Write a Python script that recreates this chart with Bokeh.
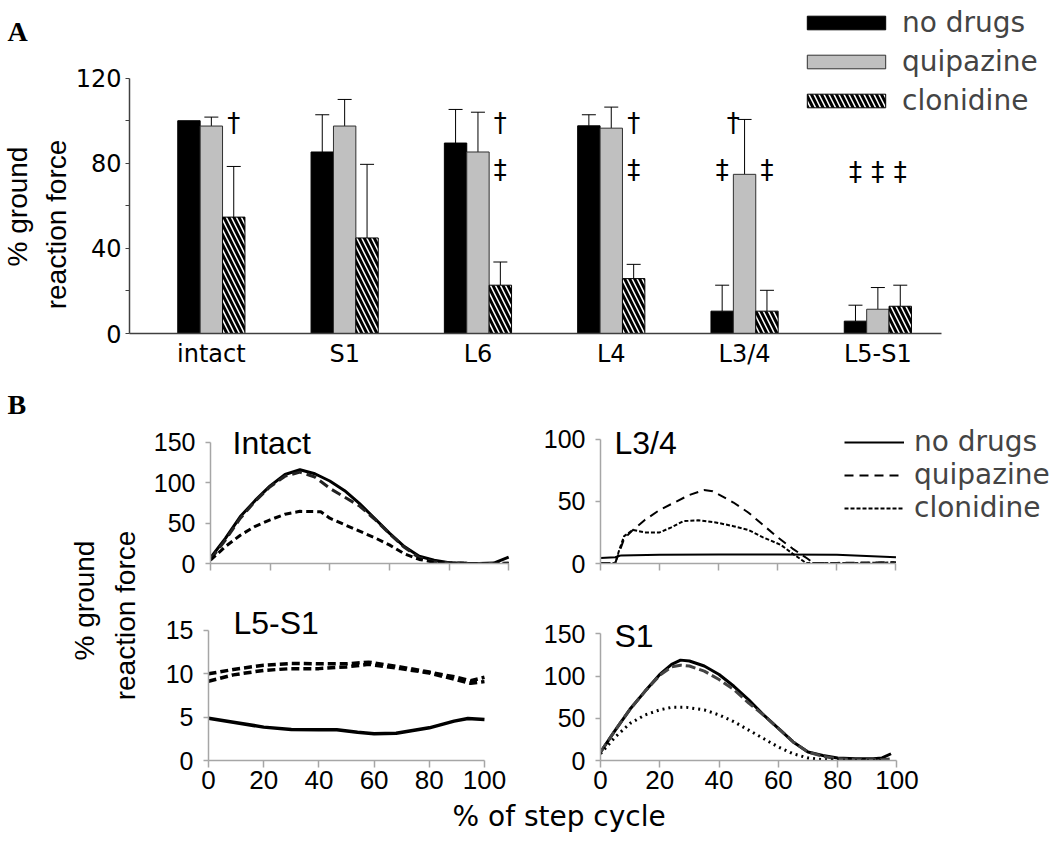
import numpy as np
from bokeh.plotting import figure
from bokeh.models import (Range1d, FixedTicker, Label, Legend, LegendItem, Whisker,
                          TeeHead, ColumnDataSource)
from bokeh.layouts import column, row
from bokeh.embed import file_html
from bokeh.resources import INLINE
from bokeh.core.properties import value

# ---------------- Panel A data ----------------
categories = ["intact", "S1", "L6", "L4", "L3/4", "L5-S1"]
no_drugs_mean = [100, 85.3, 89.5, 97.6, 10.5, 5.8]
no_drugs_sd = [0, 17.5, 15.8, 5.2, 12.2, 7.5]
quipazine_mean = [97.5, 97.5, 85.3, 96.5, 74.8, 11.4]
quipazine_sd = [4.2, 12.5, 18.7, 9.9, 25.8, 10.2]
clonidine_mean = [54.7, 44.9, 22.7, 25.8, 10.5, 12.8]
clonidine_sd = [23.8, 34.6, 10.9, 6.7, 9.8, 9.9]

sig_group = [0, 2, 2, 3, 3, 4, 4, 4, 5, 5, 5]
sig_bar = [1, 1, 1, 1, 1, -0.5, -1, 1, -1, 0, 1]
sig_y = [99, 99, 77, 99, 77, 99, 77, 77, 76, 76, 76]
sig_mark = ["\u2020", "\u2020", "\u2021", "\u2020", "\u2021", "\u2020", "\u2021", "\u2021",
            "\u2021", "\u2021", "\u2021"]

a_yticks = [0, 40, 80, 120]
a_minor = [20, 60, 100]

# ---------------- Panel B data ----------------
intact_x = [0, 5, 10, 15, 20, 25, 30, 35, 40, 45, 50, 55, 60, 65, 70, 75, 80, 85, 90, 95, 100]
intact_no_drugs = [7, 31, 58, 78, 96, 110, 116, 111, 102, 90, 74, 56, 37.5, 21, 9, 4, 1, 0.4, 0, 0.5, 8]
intact_quipazine = [5, 29, 56, 77, 95, 108, 113, 107, 93, 82, 71, 55, 37, 20, 7, 2, 1, 0.3, 0, 0, 0.5]
intact_clon_x = [0, 5, 10, 15, 20, 25, 30, 37, 40, 45, 50, 55, 60, 65, 70, 75, 80, 90, 100]
intact_clonidine = [4, 21, 35, 46, 54, 61, 64.5, 64, 56, 48, 40, 32, 23, 12, 5, 1.5, 0.5, 0, 0]

l34_nd_x = [0, 5, 7, 20, 40, 60, 80, 90, 100]
l34_no_drugs = [4.5, 5, 6.5, 7, 7.3, 7.3, 7, 6, 5]
l34_q_x = [0, 5, 6.5, 8, 11, 15, 20, 25, 30, 35, 38, 45, 50, 55, 60, 65, 70, 72, 80, 90, 100]
l34_quipazine = [0.5, 0.5, 10, 20, 27, 35, 43, 49, 55, 59, 58, 49, 41, 31, 21, 12, 4, 0.5, 0.5, 0.8, 1]
l34_c_x = [0, 5, 6.5, 8, 11, 15, 20, 24, 28, 33, 39, 45, 50, 55, 61, 65, 68, 69.5, 80, 90, 100]
l34_clonidine = [0.5, 0.5, 12, 22, 27, 25, 25, 29, 34, 34.7, 33, 30, 27, 21, 15, 8, 3, 0.5, 0.5, 0.5, 0.8]

l5_nd_x = [0, 9, 20, 30, 40, 46.5, 54, 60, 68, 80, 89, 94, 100]
l5_no_drugs = [4.88, 4.42, 3.85, 3.58, 3.54, 3.54, 3.27, 3.08, 3.15, 3.77, 4.54, 4.85, 4.73]
l5_x = [0, 9, 20, 30, 40, 50, 58, 69.5, 80, 90, 95, 100]
l5_quipazine = [9.15, 9.88, 10.4, 10.6, 10.6, 10.8, 11.1, 10.6, 10.1, 9.3, 8.9, 9.1]
l5_clonidine = [10, 10.5, 11, 11.2, 11.15, 11.15, 11.35, 10.8, 10.2, 9.6, 9.2, 9.6]

s1_x = [0, 5, 10, 15, 20, 24, 27, 30, 35, 40, 45, 50, 55, 60, 65, 70, 75, 80, 86, 92, 95, 98]
s1_no_drugs = [10, 36, 61, 82, 102, 114, 119, 118, 112, 102, 88, 72, 54, 38, 22, 10, 6, 3, 2, 2, 3, 8]
s1_quipazine = [10, 36, 61, 82, 101, 111, 113, 112, 106, 96, 84, 68, 54, 38, 22, 10, 5, 2, 1, 1, 1, 2]
s1_c_x = [0, 5, 10, 15, 20, 24, 29, 35, 40, 45, 50, 55, 60, 65, 70, 75, 80, 85, 90, 95]
s1_clonidine = [8, 28, 44, 54, 60, 63, 63, 60, 54, 46, 36, 26, 16, 8, 3, 1, 0.5, 0, 0, 0]

step_ticks = [0, 20, 40, 60, 80, 100]

SANS = "Liberation Sans"
WIDE = "DejaVu Sans"
SERIF = "Liberation Serif"


def text_strip(width, height, mbb=0):
    s = figure(width=width, height=height, x_range=Range1d(0, 1), y_range=Range1d(0, 1),
               output_backend="svg", toolbar_location=None,
               x_axis_type=None, y_axis_type=None, min_border=0, min_border_bottom=mbb)
    s.grid.visible = False
    s.outline_line_color = None
    return s


def add_label(p, x, y, text, font, size, angle=0.0, align="left", bold=False):
    # x, y: anchor (middle of the text line) in px from the frame's bottom-left
    p.add_layout(Label(x=x, y=y, x_units="screen", y_units="screen", text=text,
                       angle=angle, text_font=font, text_font_size=size,
                       text_font_style="bold" if bold else "normal",
                       text_align=align, text_baseline="middle", text_color="black"))


# ================= Panel A =================
BW = 0.168
idx = np.arange(len(categories))
A_W, A_H, A_MBB = 978, 385, 52
pA = figure(width=A_W, height=A_H, x_range=Range1d(-0.614, 6.295), y_range=Range1d(0, 156.5),
            output_backend="svg", toolbar_location=None,
            min_border_left=55, min_border_right=0, min_border_top=0, min_border_bottom=A_MBB)
pA.grid.visible = False
pA.outline_line_color = None

styles = [
    ("no drugs", no_drugs_mean, no_drugs_sd, -1,
     dict(fill_color="black", line_color="black", line_width=1)),
    ("quipazine", quipazine_mean, quipazine_sd, 0,
     dict(fill_color="#c0c0c0", line_color="#303030", line_width=1)),
    ("clonidine", clonidine_mean, clonidine_sd, 1,
     dict(fill_color="white", line_color="black", line_width=1, hatch_pattern="\\",
          hatch_color="black", hatch_weight=3, hatch_scale=10)),
]
items = []
for name, mean, sd, off, st in styles:
    xs = idx + off * BW
    r = pA.vbar(x=xs, top=mean, width=BW, bottom=0, **st)
    items.append(LegendItem(label=name, renderers=[r]))
    keep = [i for i in range(len(mean)) if sd[i] > 0]
    src = ColumnDataSource(dict(x=[xs[i] for i in keep],
                                lower=[mean[i] for i in keep],
                                upper=[mean[i] + sd[i] for i in keep]))
    w = Whisker(source=src, base="x", lower="lower", upper="upper", dimension="height",
                line_color="black", line_width=1,
                upper_head=TeeHead(size=14, line_color="black", line_width=1), lower_head=None)
    pA.add_layout(w)

sig_x = [sig_group[i] + sig_bar[i] * BW for i in range(len(sig_group))]
pA.text(x=sig_x, y=sig_y, text=sig_mark, text_font=value(WIDE), text_font_size="26px",
        text_align="center", text_baseline="middle", text_color="black")

legA = Legend(items=items, location=(668, 216), glyph_width=98, glyph_height=17,
              label_text_font=WIDE, label_text_font_size="28px", label_standoff=7,
              spacing=6, padding=0, margin=0, border_line_color=None,
              background_fill_alpha=0)
pA.add_layout(legA)

pA.xaxis.ticker = FixedTicker(ticks=list(idx))
pA.xaxis.major_label_overrides = {int(i): c for i, c in zip(idx, categories)}
pA.xaxis.bounds = (-0.614, 5.479)
pA.yaxis.bounds = (0, 120)
pA.xaxis.major_tick_out = 0
pA.xaxis.major_tick_in = 0
pA.xaxis.minor_tick_out = 0
pA.xaxis.major_label_standoff = 6
pA.yaxis.ticker = FixedTicker(ticks=a_yticks, minor_ticks=a_minor)
pA.yaxis.major_tick_out = 4
pA.yaxis.major_tick_in = 0
pA.yaxis.minor_tick_out = 4
pA.yaxis.minor_tick_in = 0
pA.yaxis.major_label_standoff = 4
for ax in (pA.xaxis, pA.yaxis):
    ax.axis_line_color = "#404040"
    ax.axis_line_width = 1.5
    ax.major_tick_line_color = "#404040"
    ax.minor_tick_line_color = "#404040"
    ax.major_label_text_font = WIDE
    ax.major_label_text_font_size = "24px"
    ax.major_label_text_color = "black"

# strip to the left of panel A (its frame is aligned with pA's frame: bottom at 333)
stripA = text_strip(72, A_H, A_MBB)
FA = A_H - A_MBB
add_label(stripA, 7, FA - 31, "A", SERIF, "28px", bold=True)
add_label(stripA, 17, FA - 206, "% ground", SANS, "28px", angle=np.pi / 2, align="center")
add_label(stripA, 56, FA - 224, "reaction force", SANS, "28px", angle=np.pi / 2, align="center")


# ================= Panel B =================
def make_panel(width, height, mbl, mbb, xend, yend, ymax, yticks, xlabels):
    p = figure(width=width, height=height, x_range=Range1d(0, xend), y_range=Range1d(0, yend),
               output_backend="svg", toolbar_location=None,
               min_border_left=mbl, min_border_right=0, min_border_top=0,
               min_border_bottom=mbb)
    p.grid.visible = False
    p.outline_line_color = None
    p.xaxis.ticker = FixedTicker(ticks=step_ticks)
    p.yaxis.ticker = FixedTicker(ticks=yticks)
    p.xaxis.bounds = (0, 100)
    p.yaxis.bounds = (0, ymax)
    p.xaxis.major_tick_out = 7
    p.yaxis.major_tick_out = 5
    for ax in (p.xaxis, p.yaxis):
        ax.major_tick_in = 0
        ax.minor_tick_out = 0
        ax.minor_tick_in = 0
        ax.axis_line_color = "#a6a6a6"
        ax.axis_line_width = 1.5
        ax.major_tick_line_color = "#a6a6a6"
        ax.major_tick_line_width = 1.5
        ax.major_label_text_font = SANS
        ax.major_label_text_color = "black"
    p.yaxis.major_label_text_font_size = "25px"
    p.yaxis.major_label_standoff = 10
    p.xaxis.major_label_text_font_size = "26px"
    p.xaxis.major_label_standoff = 3
    if not xlabels:
        p.xaxis.major_label_overrides = {t: "" for t in step_ticks}
    return p


fI = make_panel(390, 215, 58, 37, 110.67, 220.1, 150, [0, 50, 100, 150], False)
fI.line(intact_x, intact_no_drugs, line_color="black", line_width=3)
fI.line(intact_x, intact_quipazine, line_color="#222222", line_width=3, line_dash="10 5")
fI.line(intact_clon_x, intact_clonidine, line_color="black", line_width=3, line_dash="7 4")
add_label(fI, 22, 121, "Intact", SANS, "32px")

fL34 = make_panel(510, 215, 41, 37, 152.3, 143.0, 100, [0, 50, 100], False)
r_nd = fL34.line(l34_nd_x, l34_no_drugs, line_color="black", line_width=2)
r_q = fL34.line(l34_q_x, l34_quipazine, line_color="black", line_width=2, line_dash="9 6")
r_c = fL34.line(l34_c_x, l34_clonidine, line_color="black", line_width=2, line_dash="4 2")
add_label(fL34, 14, 121, "L3/4", SANS, "32px")
legB = Legend(items=[LegendItem(label="no drugs", renderers=[r_nd]),
                     LegendItem(label="quipazine", renderers=[r_q]),
                     LegendItem(label="clonidine", renderers=[r_c])],
              location=(244, 39), glyph_width=60, glyph_height=20,
              label_text_font=WIDE, label_text_font_size="28px", label_standoff=10,
              spacing=0, padding=0, margin=0, border_line_color=None,
              background_fill_alpha=0)
fL34.add_layout(legB)

B2_H, B2_MBB = 199, 39
fL5 = make_panel(390, B2_H, 58, B2_MBB, 120.3, 18.46, 15, [0, 5, 10, 15], True)
fL5.line(l5_nd_x, l5_no_drugs, line_color="black", line_width=3.5)
fL5.line(l5_x, l5_quipazine, line_color="black", line_width=3.5, line_dash="8 4")
fL5.line(l5_x, l5_clonidine, line_color="black", line_width=3.5, line_dash="8 4")
add_label(fL5, 25, 138, "L5-S1", SANS, "32px")

fS1 = make_panel(510, B2_H, 44, B2_MBB, 151.8, 189.7, 150, [0, 50, 100, 150], True)
fS1.line(s1_x, s1_no_drugs, line_color="black", line_width=3)
fS1.line(s1_x, s1_quipazine, line_color="#444444", line_width=3, line_dash="10 4")
fS1.line(s1_c_x, s1_clonidine, line_color="black", line_width=3, line_dash="2 4")
add_label(fS1, 14, 125, "S1", SANS, "32px")

SB_H = 215 + B2_H
stripB = text_strip(150, SB_H)
add_label(stripB, 7, SB_H - 18.5, "B", SERIF, "28px", bold=True)
add_label(stripB, 84, SB_H - 215, "% ground", SANS, "28px", angle=np.pi / 2, align="center")
add_label(stripB, 125, SB_H - 230, "reaction force", SANS, "28px", angle=np.pi / 2, align="center")

X_H = 44
xstrip = text_strip(1050, X_H)
add_label(xstrip, 452, X_H - 17, "% of step cycle", WIDE, "28px")

layout = column(row(stripA, pA),
                row(stripB, column(row(fI, fL34), row(fL5, fS1))),
                xstrip)

open("out.html", "w").write(file_html(layout, INLINE))
